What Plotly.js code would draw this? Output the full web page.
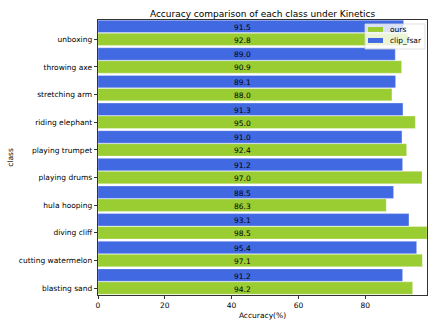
<!DOCTYPE html>
<html><head><meta charset="utf-8">
<script src="https://cdn.plot.ly/plotly-3.0.1.min.js"></script>
<style>html,body{margin:0;padding:0;background:#fff}#chart{width:436px;height:327px}</style>
</head><body><div id="chart"></div>
<script>
// Categories listed bottom to top
const categories = ["blasting sand","cutting watermelon","diving cliff","hula hooping","playing drums","playing trumpet","riding elephant","stretching arm","throwing axe","unboxing"];
const ours =      [94.2, 97.1, 98.5, 86.3, 97.0, 92.4, 95.0, 88.0, 90.9, 92.8];
const clipFsar =  [91.2, 95.4, 93.1, 88.5, 91.2, 91.0, 91.3, 89.1, 89.0, 91.5];
const seriesNames = ["ours", "clip_fsar"];
const seriesColors = ["#9ACD32", "#4169E1"];

const idx = categories.map((_, i) => i);
const OFF = 0.47, H = 0.45;
const yOurs = idx;
const yClip = idx.map(i => i + OFF);

const font = {family: "DejaVu Sans", color: "#000"};
const f = s => Object.assign({size: s}, font);
const traces = [
  {type: "bar", orientation: "h", name: seriesNames[0], x: ours, y: yOurs, width: H,
   marker: {color: seriesColors[0], line: {color: "rgba(255,255,255,0.6)", width: 0.5}}, hoverinfo: "x"},
  {type: "bar", orientation: "h", name: seriesNames[1], x: clipFsar, y: yClip, width: H,
   marker: {color: seriesColors[1], line: {color: "rgba(255,255,255,0.6)", width: 0.5}}, hoverinfo: "x"}
];

const annotations = [];
idx.forEach(i => {
  annotations.push({x: 40, y: yOurs[i], xref: "x", yref: "y", text: ours[i].toFixed(1), showarrow: false,
    xanchor: "left", yanchor: "middle", yshift: -1, font: f(7.5)});
  annotations.push({x: 40, y: yClip[i], xref: "x", yref: "y", text: clipFsar[i].toFixed(1), showarrow: false,
    xanchor: "left", yanchor: "middle", yshift: -1, font: f(7.5)});
});

// Compact legend (matplotlib style) in paper coordinates
const shapes = [
  {type: "rect", xref: "paper", yref: "paper", x0: 0.8116, x1: 0.9939, y0: 0.8945, y1: 0.9855,
   fillcolor: "rgba(255,255,255,0.8)", line: {color: "#d8d8d8", width: 0.8}, layer: "above"}
];
const legRows = [0.9655, 0.9255];
seriesNames.forEach((nm, k) => {
  shapes.push({type: "rect", xref: "paper", yref: "paper", x0: 0.8207, x1: 0.8663,
    y0: legRows[k] - 0.009, y1: legRows[k] + 0.009, fillcolor: seriesColors[k], line: {width: 0}, layer: "above"});
  annotations.push({xref: "paper", yref: "paper", x: 0.8815, y: legRows[k], text: nm, showarrow: false,
    xanchor: "left", yanchor: "middle", font: f(7.5)});
});

const layout = {
  width: 436, height: 327,
  margin: {l: 98, r: 9, t: 20, b: 32, pad: 0},
  paper_bgcolor: "#fff", plot_bgcolor: "#fff",
  font: f(7.5),
  title: {text: "Accuracy comparison of each class under Kinetics", font: f(9),
          x: 0.5, xref: "paper", y: 1, yref: "paper", yanchor: "bottom", pad: {b: 3}},
  barmode: "overlay",
  showlegend: false,
  xaxis: {range: [0, 98.5], tickvals: [0, 20, 40, 60, 80], ticks: "outside", ticklen: 3.5, tickwidth: 0.8,
          tickcolor: "#000", showgrid: false, zeroline: false, showline: true, linecolor: "#000", linewidth: 0.8,
          mirror: true, tickfont: f(7.5),
          title: {text: "Accuracy(%)", font: f(7.5), standoff: 3}},
  yaxis: {range: [-0.25, 9.7], tickvals: idx, ticktext: categories, ticks: "outside", ticklen: 3.5, tickwidth: 0.8,
          tickcolor: "#000", showgrid: false, zeroline: false, showline: true, linecolor: "#000", linewidth: 0.8,
          mirror: true, tickfont: f(7.5),
          title: {text: "class", font: f(7.5), standoff: 4}},
  shapes: shapes,
  annotations: annotations
};

Plotly.newPlot("chart", traces, layout, {displayModeBar: false, staticPlot: true});
</script></body></html>
